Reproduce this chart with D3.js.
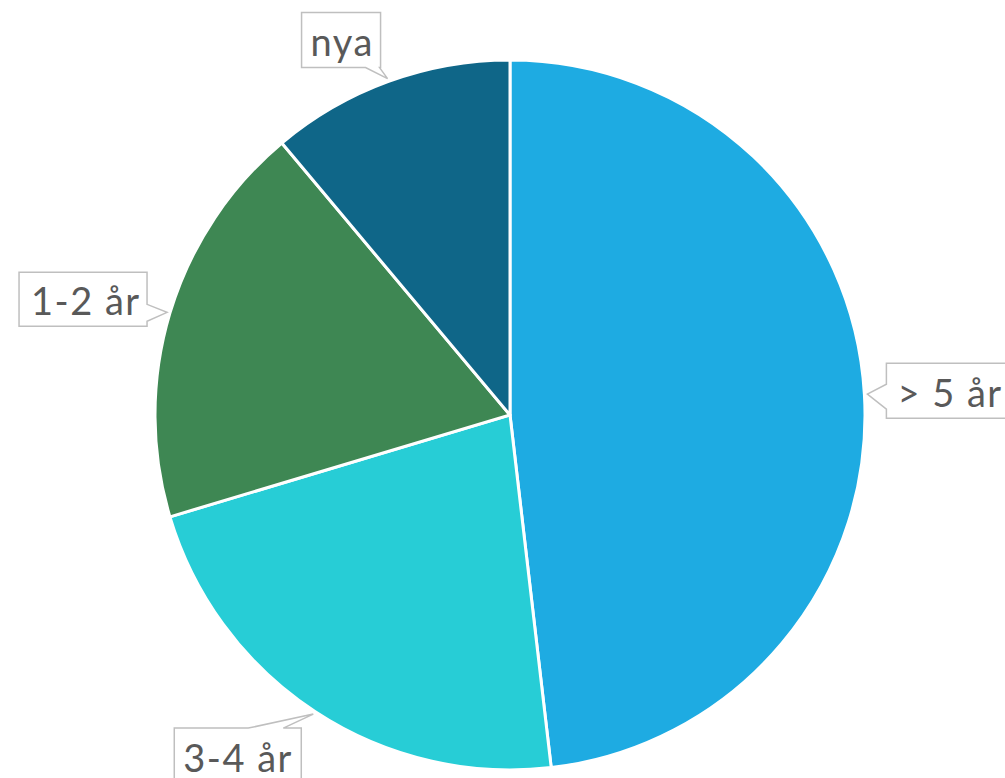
<!DOCTYPE html>
<html>
<head>
<meta charset="utf-8">
<script src="https://cdn.jsdelivr.net/npm/d3@7"></script>
<style>
  html, body { margin: 0; padding: 0; background: #fff; overflow: hidden; }
</style>
</head>
<body>
<div id="chart"></div>
<script>
// Data (shares of 27)
const categories = ["> 5 år", "3-4 år", "1-2 år", "nya"];
const values = [13, 6, 5, 3];
const sliceColors = ["#1eabe2", "#27cdd6", "#3e8753", "#0f6688"];

// Callout placement relative to the tip on the rim
const calloutLayout = [
    {dx: 19, dy: -31, w: 130, h: 55, side: "left", n: [21, 46], pad: 11},
    {dx: -139, dy: 14, w: 127, h: 55, side: "top", n: [74, 109], pad: 9},
    {dx: -148, dy: -40, w: 128, h: 54, side: "right", n: [32, 49], pad: 12},
    {dx: -86, dy: -66, w: 79, h: 55, side: "bottom", n: [64, 78], pad: 9}
];

const width = 1005;
const height = 778;
const cx = 510, cy = 415, radius = 355;

const svg = d3.select("#chart").append("svg")
    .attr("width", width)
    .attr("height", height);

const data = categories.map((c, i) => ({label: c, value: values[i], color: sliceColors[i], layout: calloutLayout[i]}));

const pie = d3.pie().sort(null).value(d => d.value);
const arc = d3.arc().innerRadius(0).outerRadius(radius);
const rimArc = d3.arc().innerRadius(358).outerRadius(358);

const g = svg.append("g").attr("transform", `translate(${cx},${cy})`);

const arcs = pie(data);

g.selectAll("path.slice")
    .data(arcs)
    .enter()
    .append("path")
    .attr("class", "slice")
    .attr("d", arc)
    .attr("fill", d => d.data.color)
    .attr("stroke", "#ffffff")
    .attr("stroke-width", 3)
    .attr("stroke-linejoin", "round");

// Build a callout outline: box with a pointer on one side
function calloutPath(tip, L) {
    const x0 = tip[0] + L.dx, y0 = tip[1] + L.dy;
    const x1 = x0 + L.w, y1 = y0 + L.h;
    let pts;
    if (L.side === "bottom") {
        pts = [[x0, y0], [x1, y0], [x1, y1], [x0 + L.n[1], y1], tip, [x0 + L.n[0], y1], [x0, y1]];
    } else if (L.side === "top") {
        pts = [[x0, y0], [x0 + L.n[0], y0], tip, [x0 + L.n[1], y0], [x1, y0], [x1, y1], [x0, y1]];
    } else if (L.side === "right") {
        pts = [[x0, y0], [x1, y0], [x1, y0 + L.n[0]], tip, [x1, y0 + L.n[1]], [x1, y1], [x0, y1]];
    } else {
        pts = [[x0, y0], [x1, y0], [x1, y1], [x0, y1], [x0, y0 + L.n[1]], tip, [x0, y0 + L.n[0]]];
    }
    return "M" + pts.map(p => p.join(",")).join("L") + "Z";
}

const callouts = g.selectAll("g.callout")
    .data(arcs)
    .enter()
    .append("g")
    .attr("class", "callout");

callouts.append("path")
    .attr("d", d => calloutPath(rimArc.centroid(d), d.data.layout))
    .attr("fill", "#ffffff")
    .attr("stroke", "#bfbfbf")
    .attr("stroke-width", 1.5);

callouts.append("text")
    .attr("x", d => rimArc.centroid(d)[0] + d.data.layout.dx + d.data.layout.pad)
    .attr("y", d => rimArc.centroid(d)[1] + d.data.layout.dy + d.data.layout.h / 2 + 1)
    .attr("dominant-baseline", "central")
    .attr("font-family", "Lato, 'Open Sans', sans-serif")
    .attr("font-size", 38)
    .attr("letter-spacing", 1.5)
    .attr("fill", "#595959")
    .text(d => d.data.label);
</script>
</body>
</html>
